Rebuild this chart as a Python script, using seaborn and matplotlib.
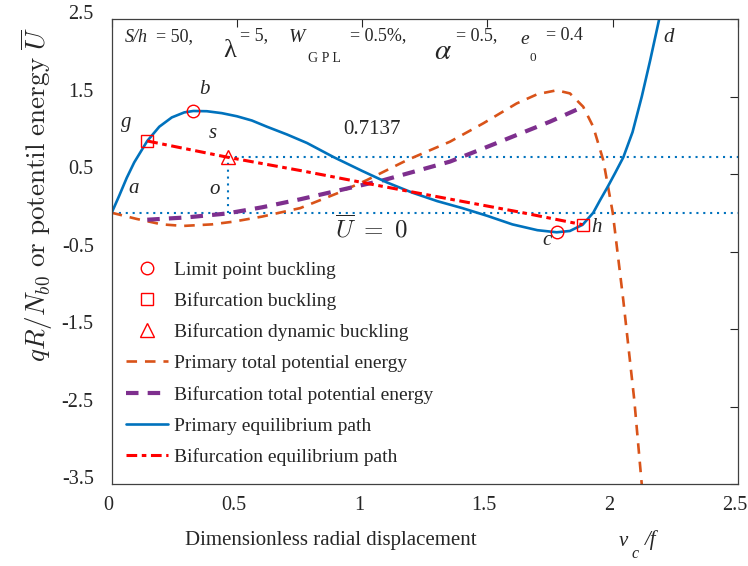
import numpy as np
import pandas as pd
import matplotlib
matplotlib.use("Agg")
import matplotlib.pyplot as plt
import matplotlib.transforms as mtransforms
import seaborn as sns

# ---------------- data ----------------
prim_x = [0, 0.03, 0.06, 0.09, 0.142, 0.19, 0.24, 0.29, 0.326, 0.38, 0.44, 0.50, 0.56,
          0.62, 0.70, 0.78, 0.885, 1.0, 1.10, 1.20, 1.30, 1.40, 1.50, 1.60, 1.70, 1.777,
          1.83, 1.881, 1.923, 1.95, 1.98, 2.01, 2.043, 2.08, 2.117, 2.15, 2.19]
prim_y = [0, 0.22, 0.45, 0.65, 0.926, 1.11, 1.23, 1.295, 1.313, 1.31, 1.285, 1.245, 1.19,
          1.11, 1.01, 0.90, 0.72, 0.54, 0.39, 0.26, 0.15, 0.06, -0.04, -0.15, -0.225, -0.252,
          -0.235, -0.154, 0.0, 0.16, 0.33, 0.51, 0.714, 1.04, 1.5, 1.96, 2.55]

bif_x = [0.142, 0.466, 0.753, 1.05, 1.351, 1.617, 1.881]
bif_y = [0.926, 0.714, 0.545, 0.36, 0.176, 0.016, -0.154]

pe_x = [0, 0.1, 0.2, 0.286, 0.4, 0.486, 0.6, 0.753, 0.9, 1.018, 1.18, 1.351, 1.484, 1.617,
        1.70, 1.777, 1.83, 1.883, 1.923, 1.963, 2.001, 2.043, 2.087, 2.117, 2.12]
pe_y = [0, -0.08, -0.15, -0.17, -0.15, -0.115, -0.05, 0.06, 0.25, 0.42, 0.68, 0.917, 1.154,
        1.41, 1.53, 1.58, 1.54, 1.368, 1.11, 0.68, 0.0, -1.126, -2.416, -3.51, -3.6]

be_x = [0.142, 0.3, 0.459, 0.6, 0.753, 0.885, 1.085, 1.351, 1.484, 1.617, 1.75, 1.883]
be_y = [-0.09, -0.06, -0.01, 0.07, 0.174, 0.272, 0.42, 0.66, 0.83, 1.003, 1.175, 1.368]

limit_x = [0.326, 1.777]
limit_y = [1.313, -0.252]
bifpt_x = [0.142, 1.881]
bifpt_y = [0.926, -0.154]
dyn_x = [0.466]
dyn_y = [0.7137]

U_dyn = 0.7137
U_zero = 0.0

xticks = [0, 0.5, 1, 1.5, 2, 2.5]
xticklabels = ["0", "0.5", "1", "1.5", "2", "2.5"]
yticks = [-3.5, -2.5, -1.5, -0.5, 0.5, 1.5, 2.5]
yticklabels = ["-3.5", "-2.5", "-1.5", "-0.5", "0.5", "1.5", "2.5"]

# ---------------- style ----------------
sns.set_style("white")
plt.rcParams["font.family"] = ["Liberation Serif", "DejaVu Serif"]
plt.rcParams["mathtext.fontset"] = "stix"

BLUE = "#0072BD"
ORANGE = "#D95319"
PURPLE = "#7E2F8E"
RED = "#FF0000"

W, H = 748, 566
fig = plt.figure(figsize=(W / 100, H / 100), dpi=100)
L, R, T, B = 111.7, 737.7, 19, 484
ax = fig.add_axes([L / W, 1 - B / H, (R - L) / W, (B - T) / H])

def fx(px):
    return px / W

def fy(py):
    return 1 - py / H

# dotted reference lines
sns.lineplot(x=[dyn_x[0], 2.5], y=[U_dyn, U_dyn], ax=ax, color=BLUE, linewidth=1.5,
             estimator=None, sort=False)
ax.lines[-1].set_dashes((1, 2.3))
sns.lineplot(x=[0, 2.5], y=[U_zero, U_zero], ax=ax, color=BLUE, linewidth=1.5,
             estimator=None, sort=False)
ax.lines[-1].set_dashes((1, 2.3))
sns.lineplot(x=[dyn_x[0], dyn_x[0]], y=[U_zero, U_dyn], ax=ax, color=BLUE, linewidth=1.5,
             estimator=None, sort=False)
ax.lines[-1].set_dashes((1, 2.3))

# curves
sns.lineplot(x=pe_x, y=pe_y, ax=ax, color=ORANGE, linewidth=1.9, estimator=None, sort=False,
             label="Primary total potential energy")
ax.lines[-1].set_dashes((4, 3))
sns.lineplot(x=be_x, y=be_y, ax=ax, color=PURPLE, linewidth=3.0, estimator=None, sort=False,
             label="Bifurcation total potential energy")
ax.lines[-1].set_dashes((3, 2.2))
sns.lineplot(x=prim_x, y=prim_y, ax=ax, color=BLUE, linewidth=1.9, estimator=None, sort=False,
             label="Primary equilibrium path")
sns.lineplot(x=bif_x, y=bif_y, ax=ax, color=RED, linewidth=2.2, estimator=None, sort=False,
             label="Bifurcation equilibrium path")
ax.lines[-1].set_dashes((3.5, 1.5, 1.5, 1.5))

# markers
sns.lineplot(x=limit_x, y=limit_y, ax=ax, linestyle="", marker="o", markersize=9,
             markerfacecolor="none", markeredgecolor=RED, markeredgewidth=1.0,
             estimator=None, sort=False, label="Limit point buckling")
sns.lineplot(x=bifpt_x, y=bifpt_y, ax=ax, linestyle="", marker="s", markersize=8,
             markerfacecolor="none", markeredgecolor=RED, markeredgewidth=1.0,
             estimator=None, sort=False, label="Bifurcation buckling")
sns.lineplot(x=dyn_x, y=dyn_y, ax=ax, linestyle="", marker="^", markersize=10,
             markerfacecolor="none", markeredgecolor=RED, markeredgewidth=1.0,
             estimator=None, sort=False, label="Bifurcation dynamic buckling")

ax.set_xlim(0, 2.5)
ax.set_ylim(-3.5, 2.5)
ax.set_xticks(xticks)
ax.set_xticklabels(xticklabels)
ax.set_yticks(yticks)
ax.set_yticklabels(yticklabels)
ax.set_xlabel("")
ax.set_ylabel("")
ax.tick_params(direction="in", length=6, width=0.8, colors="#262626",
               top=True, right=True, labelsize=14.5)
ax.tick_params(axis="y", pad=13)
ax.tick_params(axis="x", pad=9)
for s in ax.spines.values():
    s.set_color("#404040")
    s.set_linewidth(0.9)

# shift tick labels like the reference
off_y = mtransforms.ScaledTranslation(0, 7 / 100, fig.dpi_scale_trans)
for lab in ax.get_yticklabels():
    lab.set_transform(lab.get_transform() + off_y)
off_x = mtransforms.ScaledTranslation(-3 / 100, 0, fig.dpi_scale_trans)
for lab in ax.get_xticklabels():
    lab.set_transform(lab.get_transform() + off_x)

# legend
h, l = ax.get_legend_handles_labels()
order = ["Limit point buckling", "Bifurcation buckling", "Bifurcation dynamic buckling",
         "Primary total potential energy", "Bifurcation total potential energy",
         "Primary equilibrium path", "Bifurcation equilibrium path"]
hm = dict(zip(l, h))
ax.legend([hm[k] for k in order], order, loc="upper left",
          bbox_to_anchor=(fx(126), fy(261)), bbox_transform=fig.transFigure,
          frameon=False, fontsize=14, handlelength=2.15, handletextpad=0.32,
          labelspacing=0.69, borderpad=0, borderaxespad=0)

# axis labels
fig.text(fx(331), fy(541), "Dimensionless radial displacement", fontsize=15,
         ha="center", va="center")
fig.text(fx(623), fy(541), "v", fontsize=15, style="italic", ha="center", va="center")
fig.text(fx(635), fy(554), "c", fontsize=11.5, style="italic", ha="center", va="center")
fig.text(fx(651), fy(540), "/f", fontsize=15, style="italic", ha="center", va="center")

fig.text(fx(37), fy(195), r"$qR/N_{b0}\ \mathrm{or\ potentil\ energy}\ \overline{U}$",
         fontsize=19.5, rotation=90, ha="center", va="center", math_fontfamily="cm")

# parameter line
fs = 13
fig.text(fx(125), fy(38), "S/h", fontsize=fs, style="italic", va="center")
fig.text(fx(156), fy(37), "= 50,", fontsize=fs, va="center")
fig.text(fx(230), fy(51), "λ", fontsize=19, va="center", ha="center")
fig.text(fx(240), fy(36), "= 5,", fontsize=fs, va="center")
fig.text(fx(289), fy(38), "W", fontsize=14, style="italic", va="center")
fig.text(fx(308), fy(58), "G P L", fontsize=10, va="center")
fig.text(fx(350), fy(36), "= 0.5%,", fontsize=fs, va="center")
fig.text(fx(443), fy(52), r"$\alpha$", fontsize=21, va="center", ha="center")
fig.text(fx(456), fy(36), "= 0.5,", fontsize=fs, va="center")
fig.text(fx(520), fy(40), "e", fontsize=14, style="italic", va="center")
fig.text(fx(530), fy(58), "0", fontsize=9.5, va="center")
fig.text(fx(546), fy(36), "= 0.4", fontsize=fs, va="center")

# point annotations
ann = [("b", 204, 90), ("g", 126, 122), ("s", 213, 133), ("a", 134, 189), ("o", 215, 190),
       ("c", 547, 241), ("h", 597, 228), ("d", 669, 38)]
for t, px, py in ann:
    fig.text(fx(px), fy(py), t, fontsize=15, style="italic", ha="center", va="center")
fig.text(fx(372), fy(130), "0.7137", fontsize=15, ha="center", va="center")
fig.text(fx(372), fy(228), r"$\overline{U}\ =\ 0$", fontsize=18, ha="center", va="center",
         math_fontfamily="cm")

fig.savefig("out.png", dpi=100)
